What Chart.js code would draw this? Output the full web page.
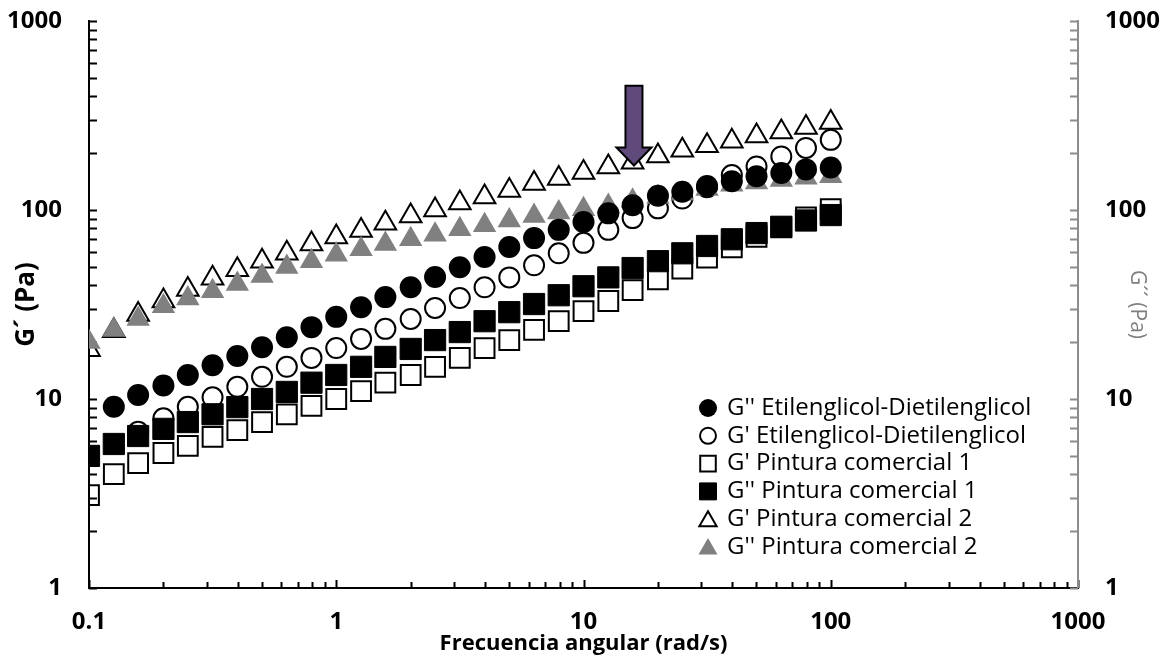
<!doctype html>
<html lang="es">
<head>
<meta charset="utf-8">
<title>G' y G'' vs frecuencia angular</title>
<script src="https://cdn.jsdelivr.net/npm/chart.js@4.4.0/dist/chart.umd.min.js"></script>
<style>
  body { margin: 0; background: #fff; }
  canvas { display: block; }
</style>
</head>
<body>
<canvas id="chart" width="1161" height="656"></canvas>
<script>
// frecuencia angular (rad/s), 10 puntos por decada
var freq = [0.1, 0.126, 0.158, 0.2, 0.251, 0.316, 0.398, 0.501, 0.631, 0.794,
            1, 1.26, 1.58, 2, 2.51, 3.16, 3.98, 5.01, 6.31, 7.94,
            10, 12.6, 15.8, 20, 25.1, 31.6, 39.8, 50.1, 63.1, 79.4, 100];

// valores (Pa)
var gppEG = [null, 9.1, 10.5, 11.8, 13.4, 15.1, 16.9, 18.8, 21.2, 24.0,
             27.2, 30.6, 34.6, 39.0, 44.2, 49.8, 56.4, 63.7, 71, 78.5,
             86.5, 96, 106, 119, 125, 134, 142, 151, 157, 164, 168];
var gpEG  = [null, null, 6.7, 7.9, 9.1, 10.2, 11.6, 13.1, 14.8, 16.5,
             18.6, 20.8, 23.5, 26.5, 30.3, 34.2, 39, 44, 51, 59,
             67, 78.5, 90.6, 102, 115, 132, 153, 170, 192, 213, 235];
var gpP1  = [3.1, 4.0, 4.58, 5.18, 5.65, 6.3, 6.85, 7.55, 8.3, 9.2,
             10.0, 11.0, 12.2, 13.4, 14.8, 16.5, 18.6, 20.5, 23.2, 25.8,
             29.2, 33, 37.7, 43, 49, 56, 63.5, 72, 81, 91.5, 101];
var gppP1 = [5.0, 5.78, 6.37, 6.95, 7.55, 8.3, 9.06, 10.0, 10.9, 12.2,
             13.4, 14.8, 16.7, 18.4, 20.5, 22.6, 25.8, 28.8, 31.8, 35.4,
             39.5, 44, 49.3, 53.6, 59, 64.5, 70, 75.5, 81.5, 88, 94];
var gpP2  = [18.2, 23, 28, 33, 38, 43.6, 48.3, 53.5, 59, 66,
             72, 78, 85, 93, 100, 109, 117, 127, 138, 147,
             158, 169, 179, 193, 207, 219, 231, 246, 259, 273, 290];
var gppP2 = [20.0, 23.2, 26.5, 31, 34, 37.2, 40.6, 44.8, 49.9, 53.5,
             58, 62, 66, 70, 74, 79, 83, 88, 93, 97,
             101, 105, 112, 117, 122, 129, 136, 140, 144, 148, 151];

var seriesNames = ["G'' Etilenglicol-Dietilenglicol", "G' Etilenglicol-Dietilenglicol",
                   "G' Pintura comercial 1", "G'' Pintura comercial 1",
                   "G' Pintura comercial 2", "G'' Pintura comercial 2"];

// flecha sobre G' Pintura comercial 2
var arrowAt = 16, arrowFrom = 455, arrowTo = 172;

function pts(ys) {
  var out = [];
  for (var i = 0; i < freq.length; i++) {
    if (ys[i] != null) out.push({x: freq[i], y: ys[i]});
  }
  return out;
}

function decadeLabel(v) {
  var e = Math.log10(v);
  return Math.abs(e - Math.round(e)) < 1e-6 ? String(v) : '';
}

var FONT = '"Open Sans", sans-serif';
Chart.defaults.font.family = FONT;
Chart.defaults.color = '#000';

var white = 'rgba(255,255,255,0)';

var datasets = [
  {label: seriesNames[0], data: pts(gppEG), pointStyle: 'circle', pointRadius: 11,
   backgroundColor: '#000', borderColor: '#000', borderWidth: 0, order: 0,
   legendRadius: 9},
  {label: seriesNames[1], data: pts(gpEG), pointStyle: 'circle', pointRadius: 10,
   backgroundColor: white, borderColor: '#000', borderWidth: 2, order: 1,
   legendRadius: 8},
  {label: seriesNames[2], data: pts(gpP1), pointStyle: 'rect', pointRadius: 14,
   backgroundColor: white, borderColor: '#000', borderWidth: 2, order: 1,
   legendRadius: 11},
  {label: seriesNames[3], data: pts(gppP1), pointStyle: 'rect', pointRadius: 15,
   backgroundColor: '#000', borderColor: '#000', borderWidth: 1, order: 0,
   legendRadius: 12},
  {label: seriesNames[4], data: pts(gpP2), pointStyle: 'triangle', pointRadius: 12.5,
   backgroundColor: white, borderColor: '#000', borderWidth: 2, order: 1,
   legendRadius: 10},
  {label: seriesNames[5], data: pts(gppP2), pointStyle: 'triangle', pointRadius: 13.5,
   backgroundColor: '#808080', borderColor: '#808080', borderWidth: 0, order: 0,
   legendRadius: 11}
];
datasets.forEach(function (d) {
  d.showLine = false;
  d.pointHoverRadius = d.pointRadius;
  d.pointBorderWidth = d.borderWidth;
});

// ejes con marcas hacia dentro, leyenda interna y flecha
var decorations = {
  id: 'decorations',
  beforeDatasetsDraw: function (chart) {
    var ctx = chart.ctx, a = chart.chartArea;
    var x = chart.scales.x, y = chart.scales.y, y2 = chart.scales.y2;
    var d, m, p;
    ctx.save();
    ctx.lineWidth = 2;
    // eje izquierdo
    ctx.strokeStyle = '#000';
    ctx.beginPath();
    ctx.moveTo(a.left, a.top - 1);
    ctx.lineTo(a.left, a.bottom + 1);
    for (d = 1; d <= 1000; d *= 10) {
      for (m = 1; m <= (d === 1000 ? 1 : 9); m++) {
        p = Math.round(y.getPixelForValue(m * d)) + 0.5;
        ctx.moveTo(a.left, p);
        ctx.lineTo(a.left + 8, p);
      }
    }
    // eje x
    ctx.moveTo(a.left - 1, a.bottom);
    ctx.lineTo(a.right + 1, a.bottom);
    for (d = 0.1; d <= 1000.01; d *= 10) {
      for (m = 1; m <= (d > 999 ? 1 : 9); m++) {
        p = Math.round(x.getPixelForValue(m * d)) + 0.5;
        ctx.moveTo(p, a.bottom);
        ctx.lineTo(p, a.bottom - (m === 1 ? 8 : 6));
      }
    }
    ctx.stroke();
    // eje derecho (gris)
    ctx.strokeStyle = '#8c8c8c';
    ctx.beginPath();
    ctx.moveTo(a.right, a.top - 1);
    ctx.lineTo(a.right, a.bottom);
    for (d = 1; d <= 1000; d *= 10) {
      for (m = 1; m <= (d === 1000 ? 1 : 9); m++) {
        p = Math.round(y2.getPixelForValue(m * d)) + 0.5;
        ctx.moveTo(a.right, p);
        ctx.lineTo(a.right - 8, p);
      }
    }
    ctx.stroke();
    ctx.restore();
  },
  afterDatasetsDraw: function (chart) {
    var ctx = chart.ctx;
    var x = chart.scales.x, y = chart.scales.y;
    // flecha
    var ax = x.getPixelForValue(arrowAt);
    var top = y.getPixelForValue(arrowFrom);
    var tip = y.getPixelForValue(arrowTo);
    var head = 18, hw = 17.5, sw = 8.5;
    ctx.save();
    ctx.beginPath();
    ctx.moveTo(ax - sw, top);
    ctx.lineTo(ax + sw, top);
    ctx.lineTo(ax + sw, tip - head);
    ctx.lineTo(ax + hw, tip - head);
    ctx.lineTo(ax, tip);
    ctx.lineTo(ax - hw, tip - head);
    ctx.lineTo(ax - sw, tip - head);
    ctx.closePath();
    ctx.fillStyle = '#604a7b';
    ctx.fill();
    ctx.lineWidth = 2;
    ctx.strokeStyle = '#000';
    ctx.stroke();

    // leyenda
    var lx = 708, ly = 408, step = 27.8;
    ctx.font = '24px ' + FONT;
    ctx.textBaseline = 'middle';
    ctx.textAlign = 'left';
    chart.data.datasets.forEach(function (ds, i) {
      var cy = ly + i * step;
      ctx.fillStyle = ds.backgroundColor;
      ctx.strokeStyle = ds.borderColor;
      ctx.lineWidth = ds.borderWidth;
      Chart.helpers.drawPoint(ctx, {pointStyle: ds.pointStyle, radius: ds.legendRadius,
        rotation: 0, borderWidth: ds.borderWidth}, lx, cy + (ds.pointStyle === 'triangle' ? 2 : 0));
      ctx.fillStyle = '#000';
      ctx.fillText(ds.label, lx + 19, cy);
    });
    ctx.restore();
  }
};

var tickFont = {family: FONT, size: 24, weight: 'bold'};
// la distancia etiqueta-eje va en tickLength (ticks.padding infla el margen superior)
var yGrid = {display: false, drawTicks: true, tickLength: 27};

new Chart(document.getElementById('chart'), {
  type: 'scatter',
  data: {datasets: datasets},
  options: {
    responsive: false,
    animation: false,
    layout: {padding: {top: 21, left: 0, right: 0, bottom: 0}},
    plugins: {legend: {display: false}, tooltip: {enabled: false}},
    scales: {
      x: {
        type: 'logarithmic', position: 'bottom', min: 0.1, max: 1000,
        grid: {display: false, drawTicks: false}, border: {display: false},
        ticks: {callback: decadeLabel, autoSkip: false, maxRotation: 0, padding: 20,
                font: tickFont, color: '#000'},
        title: {display: true, text: 'Frecuencia angular (rad/s)', color: '#000',
                font: {family: FONT, size: 22, weight: 'bold', lineHeight: 1},
                padding: {top: 0, bottom: 1}},
        afterFit: function (s) { s.height = 68; }
      },
      y: {
        type: 'logarithmic', position: 'left', min: 1, max: 1000,
        grid: yGrid, border: {display: false},
        ticks: {callback: decadeLabel, autoSkip: false, padding: 0,
                font: tickFont, color: '#000'},
        title: {display: true, text: 'G\u00b4 (Pa)', color: '#000',
                font: {family: FONT, size: 26, weight: 'bold', lineHeight: 1},
                padding: {top: 14, bottom: 0}},
        afterFit: function (s) { s.width = 89; }
      },
      y2: {
        type: 'logarithmic', position: 'right', min: 1, max: 1000,
        grid: yGrid, border: {display: false},
        ticks: {callback: decadeLabel, autoSkip: false, padding: 0,
                font: tickFont, color: '#000'},
        title: {display: true, text: 'G\u00b4\u00b4 (Pa)', color: '#7f7f7f',
                font: {family: FONT, size: 21, lineHeight: 1},
                padding: {top: 14, bottom: 0}},
        afterFit: function (s) { s.width = 83; }
      }
    }
  },
  plugins: [decorations]
});
</script>
</body>
</html>
